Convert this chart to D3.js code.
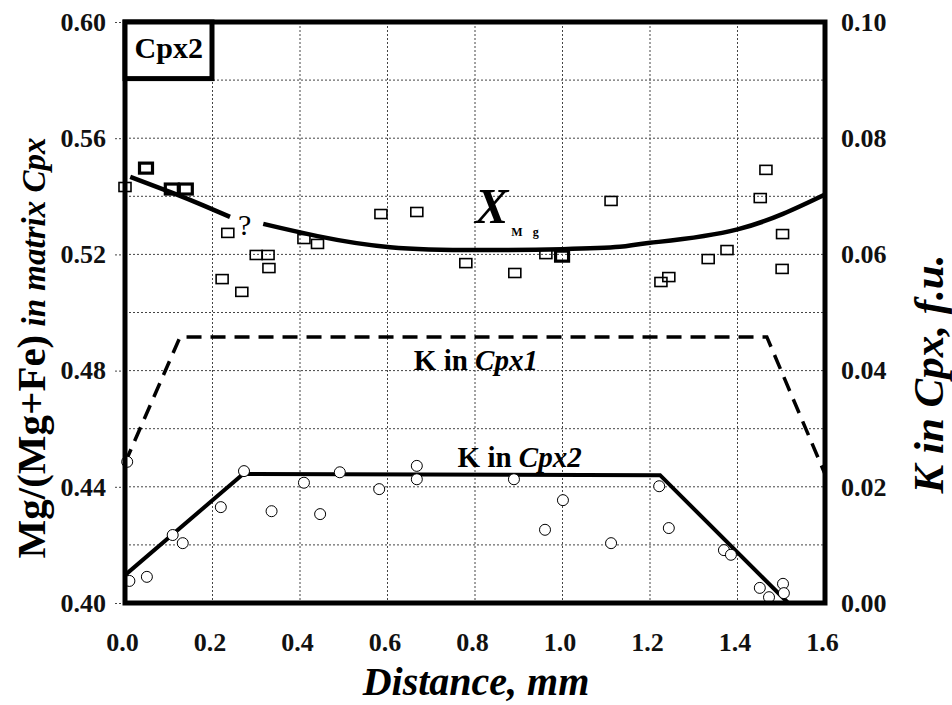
<!DOCTYPE html>
<html>
<head>
<meta charset="utf-8">
<script src="https://cdn.jsdelivr.net/npm/d3@7"></script>
<style>
  body { margin: 0; background: #fff; }
  text { font-family: "Liberation Serif", "Times New Roman", serif; }
</style>
</head>
<body>
<div id="chart"></div>
<script>
// Mg/(Mg+Fe) analyses (squares, left axis)
const mgDist  = [0.000, 0.048, 0.107, 0.139, 0.235, 0.222, 0.267, 0.300, 0.327, 0.329, 0.409, 0.440, 0.585, 0.667,
                 0.779, 0.891, 0.962, 0.999, 1.111, 1.225, 1.243, 1.333, 1.376, 1.452, 1.465, 1.503, 1.502];
const mgValue = [0.5432, 0.5497, 0.5425, 0.5425, 0.5274, 0.5115, 0.5071, 0.5198, 0.5198, 0.5153, 0.5253, 0.5236, 0.5339, 0.5346,
                 0.5170, 0.5136, 0.5201, 0.5194, 0.5384, 0.5105, 0.5122, 0.5184, 0.5215, 0.5394, 0.5491, 0.5270, 0.5150];
// number of overlapping analyses at each point
const mgRepeat = [1, 2, 2, 2, 1, 1, 1, 1, 1, 1, 1, 1, 1, 1, 1, 1, 1, 2, 1, 1, 1, 1, 1, 1, 1, 1, 1];

// K analyses (circles, right axis)
const kDist  = [0.005, 0.010, 0.050, 0.109, 0.132, 0.219, 0.272, 0.335, 0.409, 0.446, 0.491, 0.581, 0.667, 0.667,
                0.889, 0.960, 1.001, 1.111, 1.221, 1.243, 1.369, 1.385, 1.451, 1.472, 1.504, 1.506];
const kValue = [0.0243, 0.0038, 0.0045, 0.0117, 0.0103, 0.0165, 0.0227, 0.0158, 0.0207, 0.0153, 0.0225, 0.0196, 0.0236, 0.0213,
                0.0213, 0.0126, 0.0177, 0.0103, 0.0201, 0.0129, 0.0091, 0.0083, 0.0026, 0.0010, 0.0033, 0.0017];

// X_Mg trend (two pieces, broken at the "?")
const xmgDistA  = [0.012, 0.110, 0.180, 0.240];
const xmgValueA = [0.5467, 0.5411, 0.5368, 0.5329];
const xmgDistB  = [0.316, 0.440, 0.606, 0.811, 1.000, 1.131, 1.200, 1.400, 1.600];
const xmgValueB = [0.5305, 0.5263, 0.5225, 0.5215, 0.5218, 0.5226, 0.5240, 0.5286, 0.5406];

// K profiles
const kCpx1Dist  = [0.000, 0.126, 1.467, 1.600];
const kCpx1Value = [0.0241, 0.0458, 0.0458, 0.0222];
const kCpx2Dist  = [0.000, 0.270, 1.223, 1.516];
const kCpx2Value = [0.0048, 0.0222, 0.0220, 0.0000];

const xTicks = [0.0, 0.2, 0.4, 0.6, 0.8, 1.0, 1.2, 1.4, 1.6];
const yLeftTicks = [0.40, 0.44, 0.48, 0.52, 0.56, 0.60];
const yLeftGrid = [0.42, 0.44, 0.46, 0.48, 0.50, 0.52, 0.54, 0.56, 0.58];
const yRightTicks = [0.00, 0.02, 0.04, 0.06, 0.08, 0.10];

function pageLoad() {
  const W = 952, H = 705;
  const margin = { top: 22, right: 127, bottom: 102, left: 125 };
  const width = W - margin.left - margin.right;
  const height = H - margin.top - margin.bottom;

  const svg = d3.select("#chart")
    .append("svg")
      .attr("width", W)
      .attr("height", H);
  const g = svg.append("g")
      .attr("transform", "translate(" + margin.left + "," + margin.top + ")");

  const x = d3.scaleLinear().domain([0, 1.6]).range([0, width]);
  const yL = d3.scaleLinear().domain([0.40, 0.60]).range([height, 0]);
  const yR = d3.scaleLinear().domain([0, 0.10]).range([height, 0]);

  // grid
  g.append("g").selectAll("line")
    .data(xTicks.slice(1, -1))
    .join("line")
      .attr("x1", d => x(d)).attr("x2", d => x(d))
      .attr("y1", 0).attr("y2", height)
      .attr("stroke", "#444").attr("stroke-width", 1)
      .attr("stroke-dasharray", "2,2");
  g.append("g").selectAll("line")
    .data(yLeftGrid)
    .join("line")
      .attr("x1", 0).attr("x2", width)
      .attr("y1", d => yL(d)).attr("y2", d => yL(d))
      .attr("stroke", "#444").attr("stroke-width", 1)
      .attr("stroke-dasharray", "2,2");

  // axes
  const axisLeft = g.append("g")
    .call(d3.axisLeft(yL).tickValues(yLeftTicks).tickFormat(d3.format(".2f")).tickSize(12).tickPadding(7));
  const axisRight = g.append("g")
    .attr("transform", "translate(" + width + ",0)")
    .call(d3.axisRight(yR).tickValues(yRightTicks).tickFormat(d3.format(".2f")).tickSize(0).tickPadding(16));
  const axisBottom = g.append("g")
    .attr("transform", "translate(0," + height + ")")
    .call(d3.axisBottom(x).tickValues(xTicks).tickFormat(d3.format(".1f")).tickSize(0).tickPadding(30));
  [axisLeft, axisRight, axisBottom].forEach(a => {
    a.select(".domain").remove();
    a.selectAll("line").attr("stroke", "#444").attr("stroke-dasharray", "2,2");
    a.selectAll("text")
      .style("font-family", '"Liberation Serif", serif')
      .style("font-size", "26px")
      .style("font-weight", "bold")
      .attr("fill", "#111");
  });
  axisBottom.selectAll("text").attr("dx", "-3");

  // K profiles
  const kLine = (xs, ys) => d3.line().x((d, i) => x(xs[i])).y((d, i) => yR(ys[i]))(xs);
  g.append("path")
    .attr("d", kLine(kCpx1Dist, kCpx1Value))
    .attr("fill", "none").attr("stroke", "#000")
    .attr("stroke-width", 3.5).attr("stroke-dasharray", "15,9");
  g.append("path")
    .attr("d", kLine(kCpx2Dist, kCpx2Value))
    .attr("fill", "none").attr("stroke", "#000")
    .attr("stroke-width", 4);

  // X_Mg trend
  const mgCurve = (xs, ys) => d3.line().curve(d3.curveNatural)
    .x((d, i) => x(xs[i])).y((d, i) => yL(ys[i]))(xs);
  [[xmgDistA, xmgValueA], [xmgDistB, xmgValueB]].forEach(p => {
    g.append("path")
      .attr("d", mgCurve(p[0], p[1]))
      .attr("fill", "none").attr("stroke", "#000")
      .attr("stroke-width", 4.5);
  });

  // squares
  g.append("g").selectAll("rect")
    .data(mgDist)
    .join("rect")
      .attr("x", (d, i) => x(d) - (mgRepeat[i] > 1 ? 6.5 : 6))
      .attr("y", (d, i) => yL(mgValue[i]) - (mgRepeat[i] > 1 ? 5 : 4.5))
      .attr("width", (d, i) => mgRepeat[i] > 1 ? 13 : 12)
      .attr("height", (d, i) => mgRepeat[i] > 1 ? 10 : 9)
      .attr("fill", "none").attr("stroke", "#000")
      .attr("stroke-width", (d, i) => mgRepeat[i] > 1 ? 3.2 : 1.6);

  // circles
  g.append("g").selectAll("circle")
    .data(kDist)
    .join("circle")
      .attr("cx", d => x(d))
      .attr("cy", (d, i) => yR(kValue[i]))
      .attr("r", 5.5)
      .attr("fill", "#fff").attr("stroke", "#000").attr("stroke-width", 1);

  // frame
  g.append("rect")
    .attr("width", width).attr("height", height)
    .attr("fill", "none").attr("stroke", "#000").attr("stroke-width", 5);

  // Cpx2 box
  g.append("rect")
    .attr("width", x(0.2) - 0.5).attr("height", yL(0.58) - 1.5)
    .attr("fill", "#fff").attr("stroke", "#000").attr("stroke-width", 5);
  g.append("text")
    .attr("x", x(0.1)).attr("y", 36)
    .attr("text-anchor", "middle")
    .style("font-size", "30px").style("font-weight", "bold")
    .text("Cpx2");

  // annotations
  g.append("text")
    .attr("x", x(0.80)).attr("y", yL(0.5308))
    .style("font-size", "50px").style("font-weight", "bold").style("font-style", "italic")
    .text("X");
  g.append("text")
    .attr("x", x(0.883)).attr("y", yL(0.5262))
    .style("font-size", "12px").style("font-weight", "bold")
    .text("M");
  g.append("text")
    .attr("x", x(0.932)).attr("y", yL(0.5262))
    .style("font-size", "12px").style("font-weight", "bold")
    .text("g");

  g.append("text")
    .attr("x", x(0.258)).attr("y", yL(0.5267))
    .style("font-size", "30px")
    .text("?");

  const k1 = g.append("text")
    .attr("x", x(0.802)).attr("y", yR(0.0401))
    .attr("text-anchor", "middle")
    .style("font-size", "29px").style("font-weight", "bold");
  k1.append("tspan").text("K in ");
  k1.append("tspan").style("font-style", "italic").text("Cpx1");

  const k2 = g.append("text")
    .attr("x", x(0.902)).attr("y", yR(0.0234))
    .attr("text-anchor", "middle")
    .style("font-size", "29px").style("font-weight", "bold");
  k2.append("tspan").text("K in ");
  k2.append("tspan").style("font-style", "italic").text("Cpx2");

  // axis titles
  const lt = svg.append("text")
    .attr("transform", "translate(45,348) rotate(-90)")
    .attr("text-anchor", "middle")
    .style("font-weight", "bold");
  lt.append("tspan").style("font-size", "41px").text("Mg/(Mg+Fe)");
  lt.append("tspan").style("font-size", "33px").style("font-style", "italic").text(" in matrix Cpx");

  svg.append("text")
    .attr("transform", "translate(943,374) rotate(-90)")
    .attr("text-anchor", "middle")
    .style("font-size", "43px").style("font-weight", "bold").style("font-style", "italic")
    .text("K in Cpx, f.u.");

  svg.append("text")
    .attr("x", 476).attr("y", 695)
    .attr("text-anchor", "middle")
    .style("font-size", "40px").style("font-weight", "bold").style("font-style", "italic")
    .text("Distance, mm");
}

window.addEventListener("load", pageLoad);
</script>
</body>
</html>
